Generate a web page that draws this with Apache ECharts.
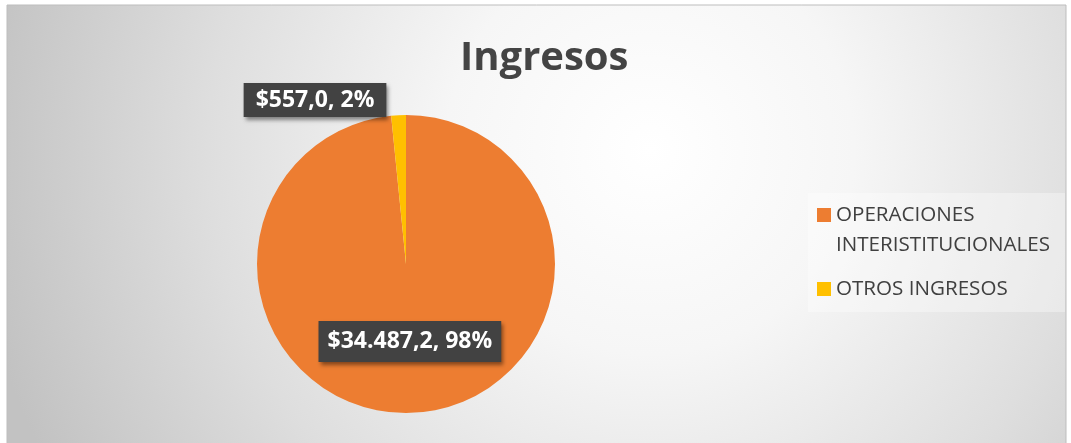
<!DOCTYPE html>
<html>
<head>
<meta charset="utf-8">
<script src="https://cdn.jsdelivr.net/npm/echarts@6/dist/echarts.min.js"></script>
<style>
html,body{margin:0;padding:0;background:#fff;}
#main{width:1071px;height:443px;}
</style>
</head>
<body>
<div id="main"></div>
<script>
var categories = ['OPERACIONES INTERISTITUCIONALES', 'OTROS INGRESOS'];
// linea en blanco arriba para que el cuadrito quede con la primera linea
var legendLabels = [' \nOPERACIONES\nINTERISTITUCIONALES', 'OTROS INGRESOS'];
var values = [34487.2, 557.0];
var colors = ['#ED7D31', '#FFC000'];
var titleText = 'Ingresos';

// formato es-CO: miles con punto, decimal con coma
function money(v){
    var parts = v.toFixed(1).split('.');
    var ent = parts[0].replace(/\B(?=(\d{3})+(?!\d))/g, '.');
    return '$' + ent + ',' + parts[1];
}

var font = '"Open Sans", "Noto Sans", sans-serif';

var labelBox = {
    color: '#ffffff',
    fontFamily: font,
    fontWeight: 'bold',
    fontSize: 23,
    lineHeight: 28,
    backgroundColor: '#424242',
    shadowColor: 'rgba(0,0,0,0.45)',
    shadowBlur: 4,
    shadowOffsetX: 2,
    shadowOffsetY: 3,
    formatter: function(p){
        return money(p.value) + ', ' + Math.round(p.percent) + '%';
    }
};

var pieData = [];
for (var i = 0; i < values.length; i++) {
    pieData.push({
        name: categories[i],
        value: values[i],
        itemStyle: {color: colors[i]}
    });
}
pieData[0].label = Object.assign({}, labelBox, {position: 'inside', padding: [6, 9, 7, 9]});
pieData[1].label = Object.assign({}, labelBox, {position: 'outside', padding: [3, 12, 3, 12]});

var myChart = echarts.init(document.getElementById('main'));
myChart.setOption({
    backgroundColor: '#ffffff',
    graphic: [
        {
            type: 'rect',
            shape: {x: 7, y: 5, width: 1059, height: 450},
            style: {
                fill: {
                    type: 'radial', x: 650, y: 150, r: 680, global: true,
                    colorStops: [
                        {offset: 0, color: '#ffffff'},
                        {offset: 0.3, color: '#f6f6f6'},
                        {offset: 0.65, color: '#dedede'},
                        {offset: 1, color: '#c2c2c2'}
                    ]
                },
                stroke: '#bdbdbd',
                lineWidth: 1
            }
        },
        {
            type: 'rect',
            shape: {x: 808, y: 193, width: 257, height: 119},
            style: {fill: 'rgba(255,255,255,0.35)'}
        }
    ],
    title: {
        text: titleText,
        left: 455,
        top: 34,
        textStyle: {
            fontFamily: font,
            fontWeight: 'bold',
            fontSize: 40,
            color: '#444444'
        }
    },
    legend: {
        orient: 'vertical',
        left: 817,
        top: 170,
        padding: 0,
        itemWidth: 14,
        itemHeight: 14,
        itemGap: 14,
        icon: 'rect',
        data: categories,
        formatter: function(name){
            return legendLabels[categories.indexOf(name)];
        },
        textStyle: {
            fontFamily: font,
            fontSize: 20.6,
            lineHeight: 30,
            color: '#404040'
        }
    },
    series: [{
        type: 'pie',
        center: [406, 264],
        radius: 149,
        startAngle: 90,
        clockwise: true,
        avoidLabelOverlap: false,
        labelLine: {show: false},
        emphasis: {disabled: true},
        data: pieData,
        labelLayout: function(p){
            if (p.dataIndex == 1) {
                return {x: 315, y: 100, align: 'center', verticalAlign: 'middle'};
            }
        }
    }]
});
</script>
</body>
</html>
